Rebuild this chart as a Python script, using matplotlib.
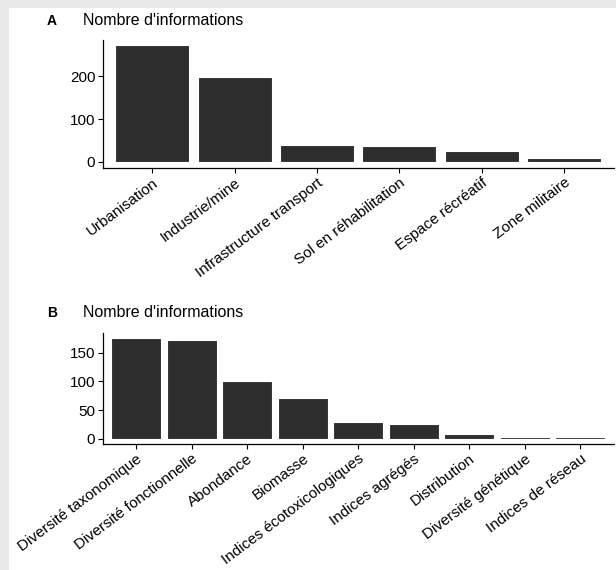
import numpy as np
import matplotlib.pyplot as plt
from matplotlib.patches import Rectangle

plt.rcParams['font.family'] = ['Liberation Sans', 'DejaVu Sans']

# Panel A: land use types
cats_a = ['Urbanisation', 'Industrie/mine', 'Infrastructure transport',
          'Sol en réhabilitation', 'Espace récréatif', 'Zone militaire']
vals_a = [274, 198, 40, 37, 25, 9]

# Panel B: biodiversity metrics
cats_b = ['Diversité taxonomique', 'Diversité fonctionnelle', 'Abondance',
          'Biomasse', 'Indices écotoxicologiques', 'Indices agrégés',
          'Distribution', 'Diversité génétique', 'Indices de réseau']
vals_b = [176, 172, 101, 71, 30, 26, 8, 3, 3]

title = "Nombre d'informations"
bar_color = '#2e2e2e'
fs = 11

fig = plt.figure(figsize=(6.16, 5.70), dpi=100)
fig.patch.set_facecolor('#e9e9e9')
fig.patches.append(Rectangle((9 / 616, 0), 1, 1 - 8 / 570, transform=fig.transFigure,
                             facecolor='white', edgecolor='none', zorder=-10))


def panel(rect, cats, vals, ticks, letter, ylim, title_gap):
    ax = fig.add_axes(rect)
    ax.patch.set_alpha(0)
    x = np.arange(1, len(cats) + 1)
    ax.bar(x, vals, width=0.9, color=bar_color, edgecolor='white', linewidth=0.8)
    ax.set_xlim(0.4, len(cats) + 0.6)
    ax.set_ylim(*ylim)
    ax.set_yticks(ticks)
    ax.set_xticks(x)
    ax.set_xticklabels(cats, rotation=37, ha='right', va='top', rotation_mode='anchor',
                       fontsize=fs)
    for s in ['top', 'right']:
        ax.spines[s].set_visible(False)
    for s in ['left', 'bottom']:
        ax.spines[s].set_linewidth(0.9)
        ax.spines[s].set_color('black')
    ax.tick_params(axis='both', length=3.5, width=0.8, colors='black', pad=2)
    ax.tick_params(axis='y', labelsize=fs)
    w = rect[2] * 616
    h = rect[3] * 570
    ax.text((47 - 103) / w, 1 + title_gap / h, letter, transform=ax.transAxes,
            fontsize=fs - 1, fontweight='bold', ha='left', va='baseline')
    ax.text((83 - 103) / w, 1 + title_gap / h, title, transform=ax.transAxes,
            fontsize=fs + 0.5, ha='left', va='baseline')
    return ax


panel([103 / 616, 1 - 167.7 / 570, 510.5 / 616, 127.7 / 570], cats_a, vals_a,
      [0, 100, 200], 'A', (-13.7, 285), 15)
panel([103 / 616, 1 - 444 / 570, 510.5 / 616, 111 / 570], cats_b, vals_b,
      [0, 50, 100, 150], 'B', (-8.8, 184), 16)

fig.savefig('out.png', dpi=100, facecolor=fig.get_facecolor())
